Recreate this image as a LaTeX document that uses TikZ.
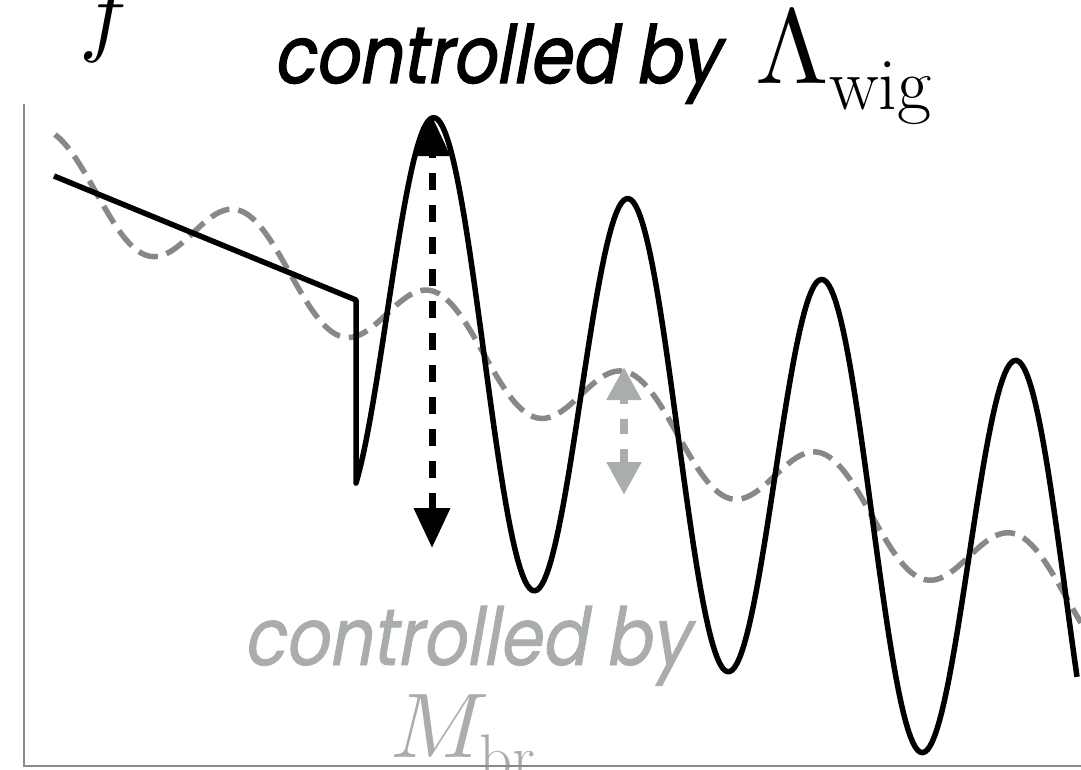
\documentclass[tikz,border=0pt]{standalone}
\usepackage{fontspec}
\usepackage{unicode-math}
\newfontfamily\futfont[FakeSlant=0.18,FakeStretch=0.85,FakeBold=1.6]{Poppins}
\newfontfamily\futlight[FakeSlant=0.18,FakeStretch=0.85,FakeBold=1.0]{Poppins}
\usetikzlibrary{arrows.meta,positioning}
\definecolor{axisgray}{HTML}{8A8A8A}
\definecolor{wiggray}{HTML}{888888}
\definecolor{brgray}{HTML}{A9ADAB}
\tikzset{
  >=Stealth,
  axisline/.style={draw=axisgray, line width=1.5pt},
  wigcurve/.style={draw=black, line width=5.5pt, line join=round},
  brcurve/.style={draw=wiggray, line width=5.5pt, dash pattern=on 20pt off 9pt},
  wigarrow/.style={{Triangle[width=35pt,length=40pt]}-{Triangle[width=35pt,length=40pt]}, line width=7pt, dash pattern=on 17pt off 15pt},
  brarrow/.style={draw=brgray, {Triangle[width=33pt,length=33pt]}-{Triangle[width=33pt,length=33pt]}, line width=8pt, dash pattern=on 15pt off 15pt},
  wiglbl/.style={font=\futfont\fontsize{80}{80}\selectfont, inner sep=0pt},
  brlbl/.style={font=\futlight\fontsize{80}{80}\selectfont, text=brgray, inner sep=0pt},
  mathlbl/.style={inner sep=0pt}
}
\begin{document}
\begin{tikzpicture}[x=1pt,y=-1pt]
    \useasboundingbox (0,0) rectangle (1081,769);

    % small wiggle (dashed)
    \draw[brcurve] plot[domain=55:1081, samples=250]
        (\x, {152.4+0.417*\x-42*cos(1.85567*(\x-435.5))});

    % large wiggle (solid)
    \draw[wigcurve] (54,176) -- (356,300) -- (356,483)
        -- plot[domain=356:1077, samples=300]
        (\x, {152.4+0.417*\x-216*cos(1.85567*(\x-435.5))});

    % amplitude arrows
    \coordinate (wigtop) at (432,116);
    \coordinate (wigbot) at (432,548);
    \draw[wigarrow] (wigbot) -- (wigtop);
    \coordinate (brtop) at (624,367);
    \coordinate (brbot) at (624,495);
    \draw[brarrow] (brbot) -- (brtop);

    % labels
    \node[mathlbl, font=\fontsize{92}{92}\selectfont, anchor=base] (flabel) at (106,44) {$f$};
    \node[wiglbl, anchor=base west] (wigtext) at (273,83) {controlled by};
    \node[mathlbl, font=\fontsize{106}{106}\selectfont, base right=36pt of wigtext] (wigsym) {$\Lambda_{\mathrm{wig}}$};
    \node[brlbl, anchor=base west] (brtext) at (243,665) {controlled by};
    \node[mathlbl, font=\fontsize{92}{92}\selectfont, text=brgray, anchor=base west] (brsym) at (390,757) {$M_{\mathrm{br}}$};

    % axes
    \coordinate (ytop) at (24,104);
    \coordinate (origin) at (24,766);
    \coordinate (xend) at (1081,766);
    \draw[axisline] (ytop) -- (origin) -- (xend);

\end{tikzpicture}
\end{document}
